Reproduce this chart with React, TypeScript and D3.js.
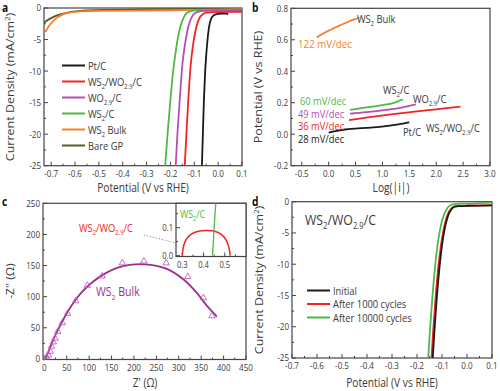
import React from 'react';
import * as d3 from 'd3';

const FONT = "'Open Sans', 'Noto Sans', sans-serif";
const SX = 0.85; // the figure's text is a bit narrow
const AXIS = '#444';
const TXT = '#3a3a3a';

// ---------- panel a: polarization curves ----------
const aXTicks = [-0.7, -0.6, -0.5, -0.4, -0.3, -0.2, -0.1, 0.0, 0.1];
const aYTicks = [0, -5, -10, -15, -20, -25];
const ptC = [[-0.068, -25], [-0.064, -20], [-0.06, -15], [-0.055, -10.5], [-0.05, -7.5], [-0.045, -5.2], [-0.04, -3.5], [-0.035, -2.4], [-0.028, -1.6], [-0.02, -1.2], [-0.01, -1.0], [0.01, -0.9], [0.035, -0.88], [0.042, -1.0]];
const ws2wo = [[-0.14, -25], [-0.133, -20], [-0.125, -14.5], [-0.115, -9], [-0.105, -5.8], [-0.095, -3.6], [-0.085, -2.2], [-0.075, -1.4], [-0.065, -1.0], [-0.05, -0.75], [-0.02, -0.65], [0.05, -0.6], [0.1, -0.6]];
const wo29 = [[-0.178, -25], [-0.17, -19.5], [-0.16, -14], [-0.15, -9], [-0.14, -6], [-0.13, -3.8], [-0.12, -2.3], [-0.11, -1.4], [-0.1, -0.9], [-0.085, -0.6], [-0.06, -0.45], [0.0, -0.4], [0.1, -0.35]];
const ws2c = [[-0.222, -25], [-0.21, -19], [-0.2, -14.5], [-0.19, -10.5], [-0.18, -7.5], [-0.17, -5], [-0.16, -3.2], [-0.15, -2], [-0.14, -1.2], [-0.13, -0.75], [-0.11, -0.45], [-0.08, -0.35], [0.0, -0.3], [0.1, -0.25]];
const ws2bulk = [[-0.725, -3.8], [-0.71, -2.9], [-0.69, -2.0], [-0.67, -1.4], [-0.65, -1.0], [-0.62, -0.7], [-0.58, -0.55], [-0.5, -0.45], [-0.3, -0.4], [-0.1, -0.3], [0.1, -0.2]];
const bareGP = [[-0.73, -2.3], [-0.71, -1.8], [-0.69, -1.4], [-0.67, -1.1], [-0.64, -0.8], [-0.6, -0.55], [-0.55, -0.4], [-0.45, -0.3], [-0.3, -0.2], [0.1, -0.1]];
const aSeries = [
  { name: 'Pt/C', color: '#1a1a1a', data: ptC },
  { name: 'WS_{2}/WO_{2.9}/C', color: '#f52222', data: ws2wo },
  { name: 'WO_{2.9}/C', color: '#b64db4', data: wo29 },
  { name: 'WS_{2}/C', color: '#4fb847', data: ws2c },
  { name: 'WS_{2} Bulk', color: '#f7802e', data: ws2bulk },
  { name: 'Bare GP', color: '#5c5a1e', data: bareGP },
];

// ---------- panel b: Tafel plots ----------
const bXTicks = [-0.5, 0.0, 0.5, 1.0, 1.5, 2.0, 2.5, 3.0];
const bYTicks = [-0.2, 0.0, 0.2, 0.4, 0.6, 0.8];
const tafelBulk = [[-0.22, 0.615], [-0.1, 0.64], [0.0, 0.658], [0.1, 0.674], [0.2, 0.69], [0.3, 0.705], [0.4, 0.72], [0.5, 0.732], [0.57, 0.74]];
const tafelPt = [[0.0, 0.01], [0.1, 0.018], [0.2, 0.025], [0.3, 0.03], [0.5, 0.036], [0.7, 0.04], [0.9, 0.045], [1.1, 0.053], [1.3, 0.063], [1.5, 0.075]];
const tafelWsWo = [[0.38, 0.09], [0.8, 0.11], [1.2, 0.127], [1.6, 0.143], [2.0, 0.158], [2.45, 0.175]];
const tafelWo = [[0.4, 0.13], [0.7, 0.14], [1.0, 0.152], [1.3, 0.166], [1.62, 0.19]];
const tafelWs = [[0.4, 0.155], [0.7, 0.17], [1.0, 0.185], [1.2, 0.198], [1.38, 0.222]];

// ---------- panel c: Nyquist ----------
const cXTicks = [0, 50, 100, 150, 200, 250, 300, 350, 400, 450];
const cYTicks = [0, 50, 100, 150, 200, 250];
const bulkPoints = [[5, 3], [9, 6], [13, 12], [16, 20], [20, 27], [24, 33], [30, 44], [40, 58], [52, 73], [70, 93], [96, 118], [129, 133], [174, 154], [222, 157], [272, 154], [320, 132], [355, 98], [374, 69]];
const bulkFit = [[3, 0], [6, 6], [10, 13], [15, 22], [22, 34], [32, 49], [45, 67], [62, 87], [82, 106], [105, 122], [135, 137], [175, 149], [225, 152], [272, 145], [310, 128], [338, 108], [362, 86], [385, 68]];
const insetXTicks = [0.3, 0.4, 0.5];
const insetYTicks = [0.0, 0.1];
const insetWsWo = [[0.3, 0], [0.302, 0.02], [0.31, 0.045], [0.325, 0.065], [0.35, 0.08], [0.38, 0.088], [0.41, 0.09], [0.44, 0.089], [0.47, 0.082], [0.495, 0.068], [0.51, 0.05], [0.52, 0.028], [0.525, 0]];
const insetWs = [[0.442, 0], [0.446, 0.05], [0.45, 0.1], [0.454, 0.15], [0.458, 0.19]];

// ---------- panel d: stability ----------
const dXTicks = [-0.7, -0.6, -0.5, -0.4, -0.3, -0.2, -0.1, 0.0, 0.1];
const dYTicks = [0, -5, -10, -15, -20, -25];
const initial = [[-0.137, -25], [-0.13, -20.5], [-0.12, -15], [-0.11, -10.5], [-0.1, -7], [-0.09, -4.5], [-0.08, -2.8], [-0.07, -1.7], [-0.06, -1.1], [-0.05, -0.8], [-0.03, -0.7], [0.0, -0.65], [0.1, -0.6]];
const after1000 = [[-0.142, -25], [-0.135, -20.5], [-0.125, -15], [-0.115, -10.5], [-0.105, -7.2], [-0.095, -4.7], [-0.085, -3], [-0.075, -1.8], [-0.065, -1.2], [-0.055, -0.85], [-0.035, -0.7], [0.0, -0.65], [0.1, -0.6]];
const after10000 = [[-0.155, -25], [-0.148, -20.5], [-0.138, -15], [-0.128, -10.5], [-0.118, -7], [-0.108, -4.5], [-0.098, -2.8], [-0.088, -1.7], [-0.078, -1.0], [-0.068, -0.6], [-0.05, -0.4], [0.0, -0.3], [0.1, -0.15]];
const dSeries = [
  { name: 'Initial', color: '#1a1a1a', data: initial },
  { name: 'After 1000 cycles', color: '#f52222', data: after1000 },
  { name: 'After 10000 cycles', color: '#4fb847', data: after10000 },
];

// ---------- helpers ----------
// "WS_{2}/WO_{2.9}/C" -> tspans with subscripts
function chem(label: string, size: number) {
  const parts = label.split(/_\{([^}]*)\}/);
  const out: any[] = [];
  let shifted = false;
  parts.forEach((p, i) => {
    if (!p) return;
    const sub = i % 2 === 1;
    let dy = 0;
    if (sub && !shifted) { dy = size * 0.3; shifted = true; }
    else if (!sub && shifted) { dy = -size * 0.3; shifted = false; }
    out.push(<tspan key={i} dy={dy} fontSize={sub ? size * 0.62 : size}>{p}</tspan>);
  });
  return out;
}

function Txt({ x, y, anchor = 'start', size = 10, fill = TXT, weight = 'normal', rotate = false, children }: any) {
  const t = `translate(${x},${y}) scale(${SX},1)` + (rotate ? ' rotate(-90)' : '');
  return (
    <text transform={t} textAnchor={anchor} fontSize={size} fill={fill} fontWeight={weight} fontFamily={FONT}>
      {typeof children === 'string' ? chem(children, size) : children}
    </text>
  );
}

function minors(ticks: number[], domain: number[]) {
  const step = ticks[1] - ticks[0];
  const lo = Math.min(domain[0], domain[1]);
  const hi = Math.max(domain[0], domain[1]);
  const res: number[] = [];
  for (let i = -1; i < ticks.length; i++) {
    const m = ticks[0] + step * (i + 0.5);
    if (m > lo && m < hi) res.push(m);
  }
  return res;
}

const fmt1 = (v: number) => (Math.abs(v) < 1e-9 ? '0.0' : v.toFixed(1));
const fmt0 = (v: number) => String(Math.round(v));

function Axes({ x, y, xTicks, yTicks, xFmt, yFmt, size = 9.5, xLabelDy = 11, frameColor = AXIS }: any) {
  const [x0, x1] = x.range();
  const [y0, y1] = y.range(); // y0 bottom
  const maj = 4, mn = 2;
  return (
    <g>
      <rect x={x0} y={y1} width={x1 - x0} height={y0 - y1} fill="none" stroke={frameColor} strokeWidth={1.2} />
      {xTicks.map((t: number) => (
        <line key={'xt' + t} x1={x(t)} x2={x(t)} y1={y0} y2={y0 - maj} stroke={frameColor} strokeWidth={1} />
      ))}
      {minors(xTicks, x.domain()).map((t: number) => (
        <line key={'xm' + t} x1={x(t)} x2={x(t)} y1={y0} y2={y0 - mn} stroke={frameColor} strokeWidth={1} />
      ))}
      {yTicks.map((t: number) => (
        <line key={'yt' + t} x1={x0} x2={x0 + maj} y1={y(t)} y2={y(t)} stroke={frameColor} strokeWidth={1} />
      ))}
      {minors(yTicks, y.domain()).map((t: number) => (
        <line key={'ym' + t} x1={x0} x2={x0 + mn} y1={y(t)} y2={y(t)} stroke={frameColor} strokeWidth={1} />
      ))}
      {xTicks.map((t: number) => (
        <Txt key={'xl' + t} x={x(t)} y={y0 + xLabelDy} anchor="middle" size={size}>{xFmt(t)}</Txt>
      ))}
      {yTicks.map((t: number) => (
        <Txt key={'yl' + t} x={x0 - 3} y={y(t) + size * 0.36} anchor="end" size={size}>{yFmt(t)}</Txt>
      ))}
    </g>
  );
}

function linePath(x: any, y: any, data: number[][], curve: any = d3.curveMonotoneX) {
  return d3.line<number[]>().x(d => x(d[0])).y(d => y(d[1])).curve(curve)(data) || '';
}

function CurrentLabel({ x, y }: any) {
  return (
    <Txt x={x} y={y} anchor="middle" size={12.5} rotate>
      <tspan>Current Density (mA/cm</tspan><tspan fontSize={8} dy={-5}>2</tspan><tspan dy={5}>)</tspan>
    </Txt>
  );
}

export default function App() {
  // panel a
  const ax = d3.scaleLinear().domain([-0.73, 0.1]).range([44, 242]);
  const ay = d3.scaleLinear().domain([-25, 0]).range([165.7, 8]);
  // panel b
  const bx = d3.scaleLinear().domain([-0.7, 3.0]).range([291, 490]);
  const by = d3.scaleLinear().domain([-0.2, 0.8]).range([165.7, 8.3]);
  // panel c
  const cx = d3.scaleLinear().domain([-3, 450]).range([43, 246]);
  const cy = d3.scaleLinear().domain([-1, 250]).range([359.5, 203.3]);
  const ix = d3.scaleLinear().domain([0.27, 0.6]).range([176, 246]);
  const iy = d3.scaleLinear().domain([-0.003, 0.187]).range([256.5, 203.3]);
  // panel d
  const dx = d3.scaleLinear().domain([-0.7, 0.1]).range([292, 492]);
  const dy = d3.scaleLinear().domain([-25, 0]).range([358, 201.7]);

  const tri = d3.symbol().type(d3.symbolTriangle).size(18)() || '';

  return (
    <svg width={500} height={391} style={{ display: 'block', position: 'absolute', left: 0, top: 0, background: '#fff' }}>
      <defs>
        <clipPath id="clipA"><rect x={44} y={8} width={198} height={157.7} /></clipPath>
        <clipPath id="clipD"><rect x={292} y={201.7} width={200} height={156.3} /></clipPath>
        <marker id="arr" viewBox="0 0 10 10" refX={9} refY={5} markerWidth={5} markerHeight={5} orient="auto">
          <path d="M0,1 L9,5 L0,9" fill="none" stroke="#999" strokeWidth={1.5} />
        </marker>
      </defs>
      <rect width={500} height={391} fill="#fff" />

      {/* ---------- a ---------- */}
      <Axes x={ax} y={ay} xTicks={aXTicks} yTicks={aYTicks} xFmt={fmt1} yFmt={fmt0} />
      <g clipPath="url(#clipA)">
        {aSeries.slice().reverse().map(s => (
          <path key={s.name} d={linePath(ax, ay, s.data)} fill="none" stroke={s.color} strokeWidth={1.8} />
        ))}
      </g>
      {aSeries.map((s, i) => (
        <g key={s.name}>
          <line x1={62} x2={85} y1={65.5 + i * 16} y2={65.5 + i * 16} stroke={s.color} strokeWidth={2} />
          <Txt x={88} y={69.5 + i * 16} size={11}>{s.name}</Txt>
        </g>
      ))}
      <CurrentLabel x={14} y={87} />
      <Txt x={143} y={191.5} anchor="middle" size={12}>{'Potential (V vs RHE)'}</Txt>
      <Txt x={2} y={12} size={12} weight="bold" fill="#111">{'a'}</Txt>

      {/* ---------- b ---------- */}
      <Axes x={bx} y={by} xTicks={bXTicks} yTicks={bYTicks} xFmt={fmt1} yFmt={fmt1} />
      <path d={linePath(bx, by, tafelBulk)} fill="none" stroke="#f7802e" strokeWidth={1.8} />
      <path d={linePath(bx, by, tafelPt)} fill="none" stroke="#1a1a1a" strokeWidth={1.8} />
      <path d={linePath(bx, by, tafelWsWo)} fill="none" stroke="#f52222" strokeWidth={1.8} />
      <path d={linePath(bx, by, tafelWo)} fill="none" stroke="#b64db4" strokeWidth={1.8} />
      <path d={linePath(bx, by, tafelWs)} fill="none" stroke="#4fb847" strokeWidth={1.8} />
      <Txt x={357} y={23} size={11}>{'WS_{2} Bulk'}</Txt>
      <Txt x={298} y={48} size={11.5} fill="#f7802e">{'122 mV/dec'}</Txt>
      <Txt x={383} y={94} size={11}>{'WS_{2}/C'}</Txt>
      <Txt x={413} y={103} size={11}>{'WO_{2.9}/C'}</Txt>
      <Txt x={300} y={105} size={11} fill="#4fb847">{'60 mV/dec'}</Txt>
      <Txt x={298} y={118} size={11} fill="#b64db4">{'49 mV/dec'}</Txt>
      <Txt x={298} y={129.5} size={11} fill="#f52222">{'36 mV/dec'}</Txt>
      <Txt x={426} y={132} size={11}>{'WS_{2}/WO_{2.9}/C'}</Txt>
      <Txt x={298} y={142.5} size={11} fill="#1a1a1a">{'28 mV/dec'}</Txt>
      <Txt x={403} y={136} size={11}>{'Pt/C'}</Txt>
      <Txt x={262} y={87} anchor="middle" size={12.5} rotate>{'Potential (V vs RHE)'}</Txt>
      <Txt x={391} y={191.5} anchor="middle" size={12}>{'Log(|i|)'}</Txt>
      <Txt x={252} y={12} size={12} weight="bold" fill="#111">{'b'}</Txt>

      {/* ---------- c ---------- */}
      <Axes x={cx} y={cy} xTicks={cXTicks} yTicks={cYTicks} xFmt={fmt0} yFmt={fmt0} />
      <path d={linePath(cx, cy, bulkFit, d3.curveCatmullRom)} fill="none" stroke="#9c2f8e" strokeWidth={1.8} />
      {bulkPoints.map((p, i) => (
        <path key={i} d={tri} transform={`translate(${cx(p[0])},${cy(p[1])})`} fill="none" stroke="#c45ec0" strokeWidth={0.9} />
      ))}
      <circle cx={cx(0.4)} cy={cy(0)} r={1.3} fill="#f52222" />
      <circle cx={cx(0.45)} cy={cy(0.3)} r={1.1} fill="#4fb847" />
      <Txt x={96} y={296} size={12.5} fill="#9c2f8e">{'WS_{2} Bulk'}</Txt>
      <Txt x={79} y={232} size={11} fill="#f52222">{'WS_{2}/WO_{2.9}/C'}</Txt>
      <line x1={144} y1={235} x2={182} y2={244.5} stroke="#999" strokeWidth={1} strokeDasharray="1.5,1.5" markerEnd="url(#arr)" />
      {/* inset */}
      <rect x={176} y={203.3} width={70} height={53.2} fill="#fff" />
      <Axes x={ix} y={iy} xTicks={insetXTicks} yTicks={insetYTicks} xFmt={fmt1} yFmt={fmt1} size={9} xLabelDy={11} />
      <path d={linePath(ix, iy, insetWsWo, d3.curveCatmullRom)} fill="none" stroke="#f52222" strokeWidth={1.5} />
      <path d={linePath(ix, iy, insetWs, d3.curveLinear)} fill="none" stroke="#4fb847" strokeWidth={1.3} />
      <Txt x={180} y={218} size={10.5} fill="#4fb847">{'WS_{2}/C'}</Txt>
      <Txt x={14} y={281} anchor="middle" size={12} rotate>{"-Z'' (Ω)"}</Txt>
      <Txt x={145} y={386.5} anchor="middle" size={12}>{"Z' (Ω)"}</Txt>
      <Txt x={2} y={206} size={12} weight="bold" fill="#111">{'c'}</Txt>

      {/* ---------- d ---------- */}
      <Axes x={dx} y={dy} xTicks={dXTicks} yTicks={dYTicks} xFmt={fmt1} yFmt={fmt0} />
      <g clipPath="url(#clipD)">
        {dSeries.slice().reverse().map(s => (
          <path key={s.name} d={linePath(dx, dy, s.data)} fill="none" stroke={s.color} strokeWidth={1.8} />
        ))}
      </g>
      {dSeries.map((s, i) => (
        <g key={s.name}>
          <line x1={307} x2={330} y1={290.5 + i * 13.5} y2={290.5 + i * 13.5} stroke={s.color} strokeWidth={2} />
          <Txt x={333} y={294.5 + i * 13.5} size={11}>{s.name}</Txt>
        </g>
      ))}
      <Txt x={305} y={225} size={14.5}>{'WS_{2}/WO_{2.9}/C'}</Txt>
      <CurrentLabel x={263} y={280} />
      <Txt x={392} y={387} anchor="middle" size={12}>{'Potential (V vs RHE)'}</Txt>
      <Txt x={252} y={206} size={12} weight="bold" fill="#111">{'d'}</Txt>
    </svg>
  );
}
